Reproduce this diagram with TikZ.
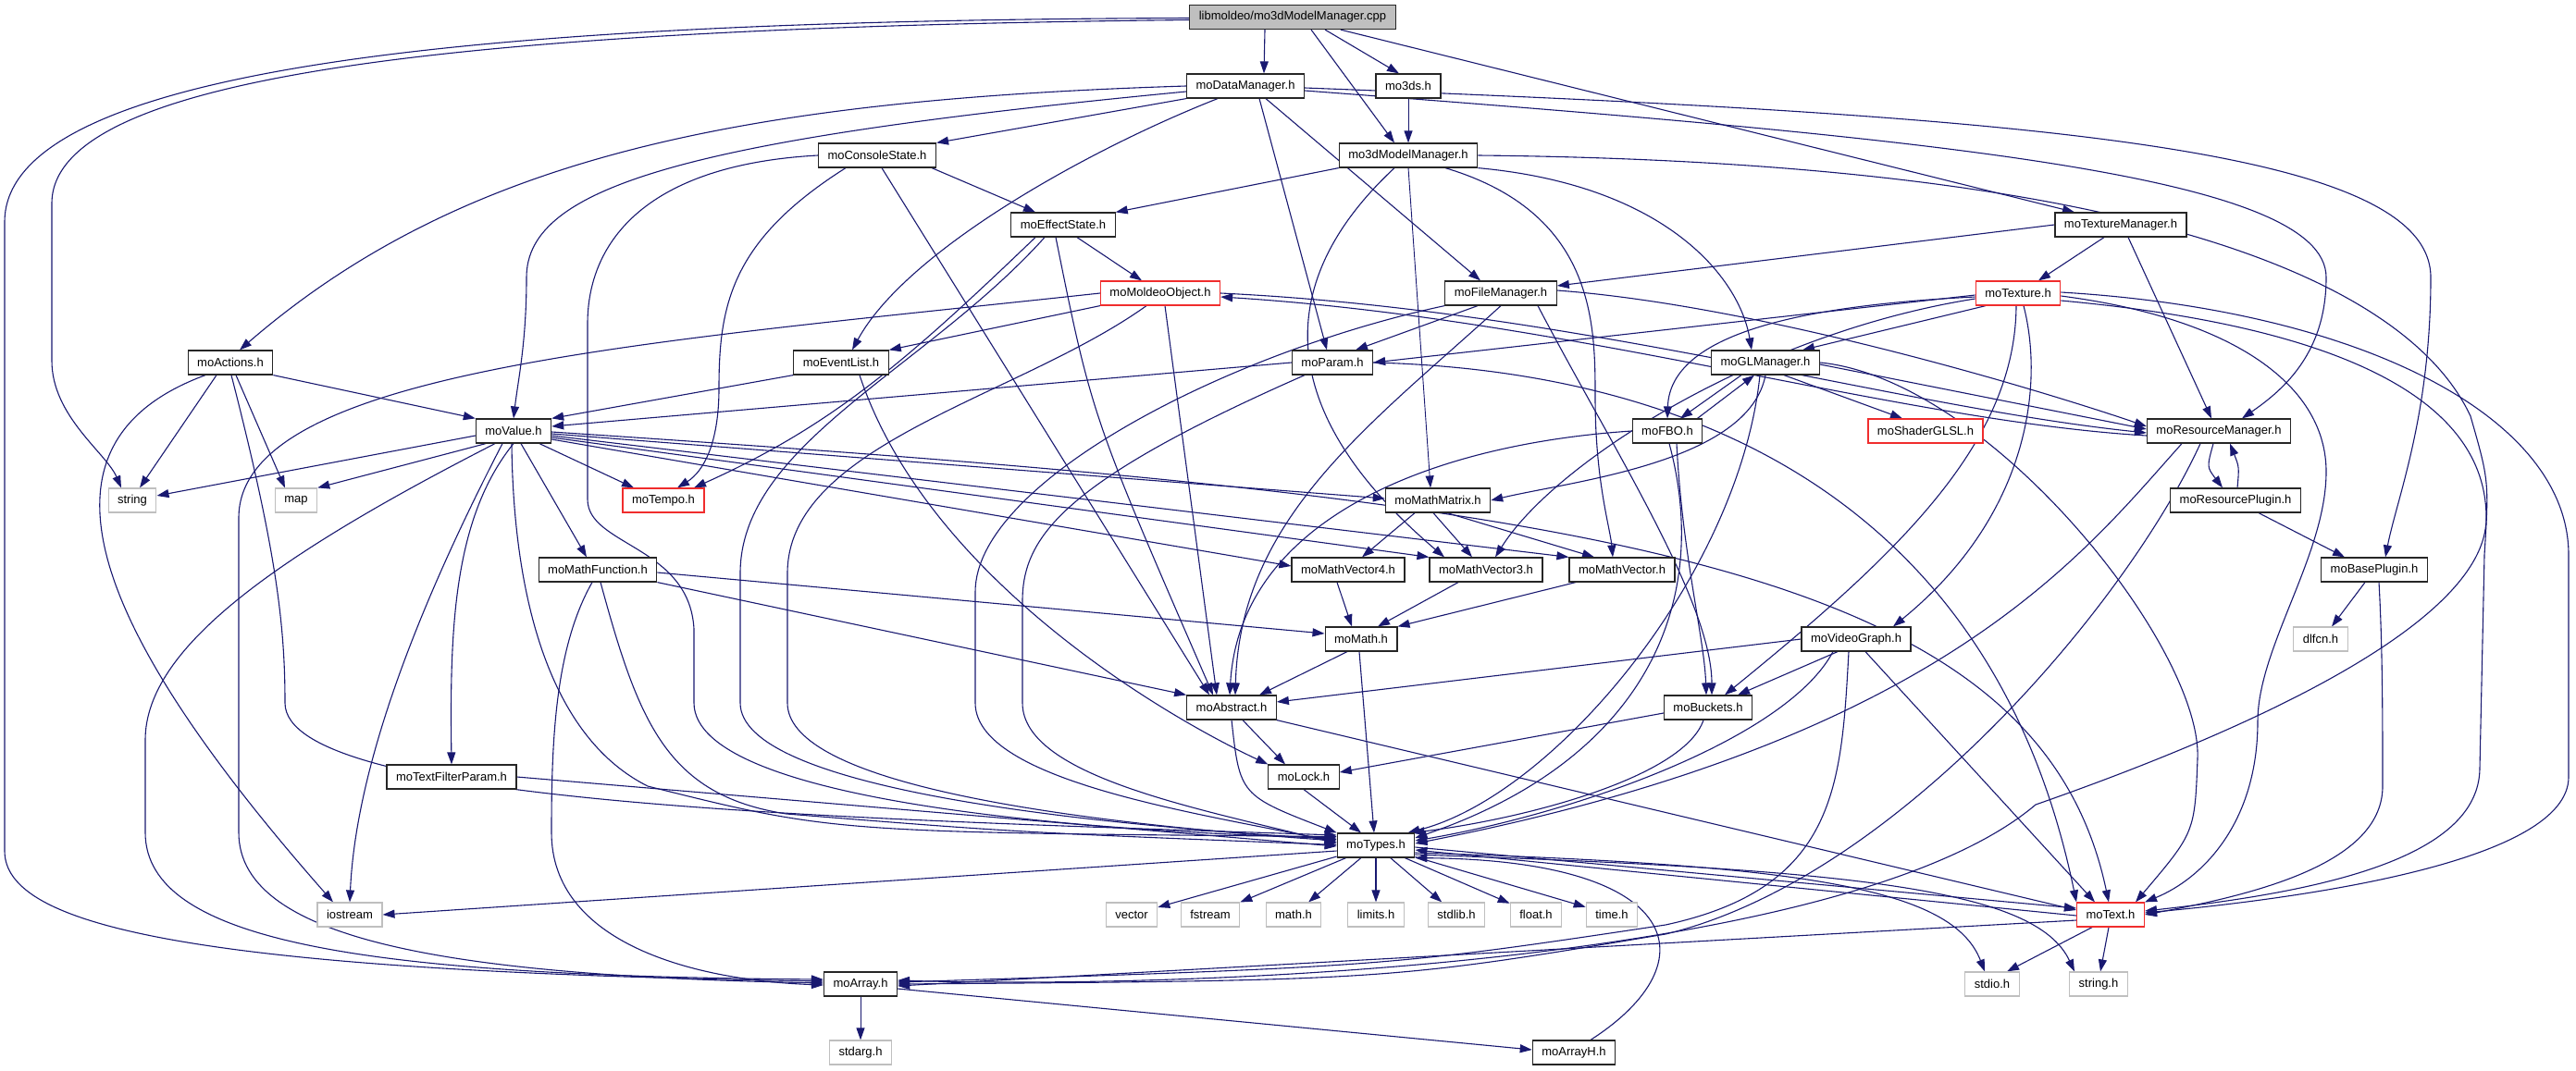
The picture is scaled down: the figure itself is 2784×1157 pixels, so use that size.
\documentclass[tikz,border=0pt]{standalone}
\usepackage{fontspec}
\setmainfont{Liberation Sans}
\usetikzlibrary{arrows.meta}
\definecolor{edgeblue}{RGB}{25,25,112}
\definecolor{boxgray}{RGB}{191,191,191}
\definecolor{boxred}{RGB}{240,45,45}
\pgfdeclarelayer{edges}
\pgfsetlayers{edges,main}
\begin{document}
\begin{tikzpicture}[x=1pt, y=-1pt,
	inc/.style={draw=black!85, line width=1.2pt, fill=white, font=\fontsize{13}{15}\selectfont, minimum height=26pt, inner xsep=10pt, inner ysep=0pt},
	sysinc/.style={inc, draw=boxgray},
	redinc/.style={inc, draw=boxred},
	dep/.style={draw=edgeblue, line width=1.1pt, -{Triangle[length=13pt,width=9pt]}},
	thindep/.style={dep, line width=0.9pt}]
	\useasboundingbox (0,0) rectangle (2784,1157);
	\node (cpp) [inc, fill=boxgray] at (1397,18.5) {libmoldeo/mo3dModelManager.cpp};
	\node (dm) [inc] at (1346,93) {moDataManager.h};
	\node (m3ds) [inc] at (1522,93) {mo3ds.h};
	\node (cs) [inc] at (948,168) {moConsoleState.h};
	\node (m3dm) [inc] at (1522,168) {mo3dModelManager.h};
	\node (es) [inc] at (1149,243) {moEffectState.h};
	\node (tm) [inc] at (2292,243) {moTextureManager.h};
	\node (mo) [redinc] at (1254,317) {moMoldeoObject.h};
	\node (fm) [inc] at (1622,317) {moFileManager.h};
	\node (tex) [redinc] at (2181,317) {moTexture.h};
	\node (act) [inc] at (249,392) {moActions.h};
	\node (el) [inc] at (909,392) {moEventList.h};
	\node (par) [inc] at (1440,392) {moParam.h};
	\node (gl) [inc] at (1908,392) {moGLManager.h};
	\node (val) [inc] at (555,466) {moValue.h};
	\node (fbo) [inc] at (1802,466) {moFBO.h};
	\node (glsl) [redinc] at (2081,466) {moShaderGLSL.h};
	\node (rm) [inc] at (2398,466) {moResourceManager.h};
	\node (str) [sysinc] at (143,541) {string};
	\node (map) [sysinc] at (320,541) {map};
	\node (tempo) [redinc] at (717,541) {moTempo.h};
	\node (mat) [inc] at (1554,541) {moMathMatrix.h};
	\node (rp) [inc] at (2416,541) {moResourcePlugin.h};
	\node (mf) [inc] at (646,616) {moMathFunction.h};
	\node (v4) [inc] at (1457,616) {moMathVector4.h};
	\node (v3) [inc] at (1606,616) {moMathVector3.h};
	\node (vec) [inc] at (1753,616) {moMathVector.h};
	\node (bp) [inc] at (2566,616) {moBasePlugin.h};
	\node (math) [inc] at (1471,691) {moMath.h};
	\node (vg) [inc] at (2006,691) {moVideoGraph.h};
	\node (dl) [sysinc] at (2508,691) {dlfcn.h};
	\node (abs) [inc] at (1331,765) {moAbstract.h};
	\node (buck) [inc] at (1846,765) {moBuckets.h};
	\node (tfp) [inc] at (488,840) {moTextFilterParam.h};
	\node (lock) [inc] at (1409,840) {moLock.h};
	\node (types) [inc] at (1487,914) {moTypes.h};
	\node (ios) [sysinc] at (378,989) {iostream};
	\node (vector) [sysinc] at (1223,989) {vector};
	\node (fstream) [sysinc] at (1308,989) {fstream};
	\node (mathh) [sysinc] at (1398,989) {math.h};
	\node (limits) [sysinc] at (1487,989) {limits.h};
	\node (stdlib) [sysinc] at (1574,989) {stdlib.h};
	\node (float) [sysinc] at (1660,989) {float.h};
	\node (time) [sysinc] at (1742,989) {time.h};
	\node (text) [redinc] at (2281,989) {moText.h};
	\node (arr) [inc] at (930,1064) {moArray.h};
	\node (stdio) [sysinc] at (2153,1064) {stdio.h};
	\node (strh) [sysinc] at (2268,1064) {string.h};
	\node (stdarg) [sysinc] at (930,1138) {stdarg.h};
	\node (arrh) [inc] at (1701,1138) {moArrayH.h};
	\begin{pgfonlayer}{edges}
	% cpp
	\draw[dep] ([xshift=-30pt]cpp.south) -- ([xshift=20pt]dm.north);
	\draw[dep] ([xshift=35pt]cpp.south) -- ([xshift=-10pt]m3ds.north);
	\draw[dep] ([xshift=20pt]cpp.south) -- ([xshift=-15pt]m3dm.north);
	\draw[dep] ([xshift=-60pt]cpp.south east) -- ([xshift=-50pt]tm.north);
	\draw[dep] ([yshift=-3pt]cpp.west) .. controls (500,30) and (56,80) .. (56,220) -- (56,390) .. controls (56,450) and (115,490) .. ([xshift=-12pt]str.north);
	\draw[dep] ([yshift=-1pt]cpp.west) .. controls (600,22) and (5,60) .. (5,240) -- (5,920) .. controls (5,1000) and (200,1050) .. ([yshift=3pt]arr.west);
	% moDataManager
	\draw[dep] (dm.west) .. controls (800,108) and (500,170) .. ([xshift=10pt]act.north);
	\draw[dep] ([yshift=-6pt]dm.west) .. controls (750,150) and (569,200) .. (569,300) .. controls (569,370) and (560,410) .. (val.north);
	\draw[dep] (dm.south west) -- (cs.north east);
	\draw[dep] ([xshift=-30pt]dm.south) .. controls (1180,160) and (980,270) .. ([xshift=12pt]el.north);
	\draw[dep] ([xshift=15pt]dm.south) -- ([xshift=-6pt]par.north);
	\draw[dep] ([xshift=22pt]dm.south) -- ([xshift=-22pt]fm.north);
	\draw[dep] ([yshift=-2pt]dm.east) .. controls (2200,125) and (2627,160) .. (2627,300) .. controls (2627,450) and (2590,540) .. ([xshift=12pt]bp.north);
	\draw[dep] ([yshift=-5pt]dm.east) .. controls (2100,150) and (2514,190) .. (2514,300) .. controls (2514,380) and (2470,420) .. ([xshift=25pt]rm.north);
	% mo3ds, mo3dModelManager
	\draw[thindep] (m3ds) -- (m3dm);
	\draw[dep] (m3dm.south west) -- (es.north east);
	\draw[thindep] (m3dm.south) -- ([xshift=-8pt]mat.north);
	\draw[dep] ([xshift=-15pt]m3dm.south) .. controls (1380,300) and (1370,440) .. ([xshift=-45pt]v3.north);
	\draw[dep] ([xshift=40pt]m3dm.south) .. controls (1724,230) and (1724,350) .. (1724,430) .. controls (1724,520) and (1740,570) .. ([xshift=-10pt]vec.north);
	\draw[dep] (m3dm.south east) .. controls (1800,200) and (1880,300) .. ([xshift=-15pt]gl.north);
	\draw[dep] (m3dm.east) .. controls (2300,175) and (2600,300) .. (2670,450) .. controls (2690,520) .. (2685,600) -- (2680,830) .. controls (2680,930) and (2500,965) .. ([yshift=4pt]text.east);
	% moConsoleState
	\draw[dep] ([xshift=-5pt]cs.south east) -- ([xshift=-30pt]es.north);
	\draw[dep] ([xshift=30pt]cs.south west) .. controls (790,260) and (777,330) .. (777,420) .. controls (777,480) and (760,510) .. ([xshift=15pt]tempo.north);
	\draw[dep] (cs.west) .. controls (700,178) and (635,260) .. (635,350) -- (635,540) .. controls (635,590) and (745,590) .. (750,680) -- (750,760) .. controls (750,870) and (1200,900) .. ([yshift=8pt]types.west);
	\draw[dep] ([xshift=5pt]cs.south) -- ([xshift=-24pt]abs.north);
	% moEffectState
	\draw[dep] ([xshift=15pt]es.south) -- ([xshift=-20pt]mo.north);
	\draw[dep] ([xshift=-8pt]es.south) .. controls (1180,450) .. ([xshift=-20pt]abs.north);
	\draw[dep] ([xshift=-30pt]es.south) .. controls (980,390) and (900,460) .. ([xshift=33pt]tempo.north);
	\draw[dep] ([xshift=-20pt]es.south) .. controls (1000,400) and (800,480) .. (800,620) -- (800,760) .. controls (800,850) and (1150,890) .. ([yshift=6.5pt]types.west);
	% moMoldeoObject
	\draw[dep] (mo.south west) -- (el.north east);
	\draw[dep] (mo.west) .. controls (700,370) and (258,400) .. (258,560) -- (258,900) .. controls (258,1020) and (500,1055) .. ([yshift=1pt]arr.west);
	\draw[dep] ([xshift=5pt]mo.south) -- ([xshift=-16pt]abs.north);
	\draw[dep] ([xshift=-15pt]mo.south) .. controls (1100,430) and (851,480) .. (851,620) -- (851,760) .. controls (851,840) and (1100,885) .. ([yshift=5pt]types.west);
	\draw[dep] (mo.east) .. controls (1700,335) and (2050,440) .. ([yshift=-2pt]rm.west);
	\draw[dep] ([yshift=-5pt]rm.west) .. controls (2050,455) and (1700,345) .. ([yshift=-4pt]mo.east);
	% moFileManager
	\draw[dep] ([xshift=-25pt]fm.south) -- ([xshift=25pt]par.north);
	\draw[dep] (fm.south) .. controls (1480,460) and (1340,560) .. ([xshift=4pt]abs.north);
	\draw[dep] (fm.south west) .. controls (1330,380) and (1054,520) .. (1054,640) -- (1054,760) .. controls (1054,845) and (1300,880) .. ([yshift=3.5pt]types.west);
	\draw[dep] ([xshift=40pt]fm.south) .. controls (1740,480) and (1850,650) .. ([xshift=4pt]buck.north);
	\draw[dep] ([yshift=3pt]fm.east) .. controls (1900,330) and (2200,420) .. ([yshift=5pt]rm.west);
	% moTextureManager
	\draw[dep] (tm.west) -- ([yshift=8pt]fm.east);
	\draw[dep] ([xshift=-18pt]tm.south) -- ([xshift=22pt]tex.north);
	\draw[dep] ([xshift=8pt]tm.south) -- ([xshift=-8pt]rm.north);
	% moTexture
	\draw[dep] ([xshift=-35pt]tex.south) -- ([xshift=40pt]gl.north);
	\draw[dep] ([yshift=-2pt]tex.west) -- (par.east);
	\draw[dep] ([yshift=-4pt]tex.west) .. controls (1950,330) and (1805,360) .. (fbo.north);
	\draw[dep] ([yshift=-6pt]tex.west) .. controls (1900,360) and (1680,500) .. ([xshift=10pt]v3.north);
	\draw[dep] ([xshift=6pt]tex.south) .. controls (2210,420) and (2190,560) .. ([xshift=40pt]vg.north);
	\draw[dep] ([xshift=-2pt]tex.south) .. controls (2178,480) and (2050,600) .. ([xshift=18pt]buck.north);
	\draw[dep] ([yshift=-3pt]tex.east) .. controls (2420,345) and (2514,420) .. (2514,510) .. controls (2514,600) and (2440,700) .. (2440,780) .. controls (2440,890) and (2380,950) .. (text.north east);
	\draw[dep] ([yshift=1pt]tex.east) .. controls (2550,335) and (2776,450) .. (2776,600) -- (2776,840) .. controls (2776,930) and (2500,970) .. ([yshift=2pt]text.east);
	\draw[dep] ([yshift=-8pt]tex.east) .. controls (2500,350) and (2687,420) .. (2687,560) .. controls (2687,680) and (2400,800) .. (2200,870) .. controls (2000,1040) and (1300,1070) .. ([yshift=4pt]arr.east);
	% moGLManager
	\draw[dep] ([xshift=-26pt]gl.south) -- ([xshift=14pt]fbo.north);
	\draw[dep] ([xshift=-6pt]fbo.north east) -- ([xshift=-12pt]gl.south);
	\draw[dep] ([xshift=20pt]gl.south) -- ([xshift=-25pt]glsl.north);
	\draw[dep] ([yshift=-2pt]gl.east) -- ([yshift=2pt]rm.west);
	\draw[dep] (gl.south) .. controls (1890,500) and (1700,520) .. (mat.east);
	\draw[dep] ([xshift=-6pt]gl.south) .. controls (1880,620) and (1680,860) .. ([xshift=-8pt]types.north east);
	\draw[dep] (gl.east) .. controls (2150,410) and (2380,700) .. (2375,820) .. controls (2372,900) .. ([xshift=-10pt]text.north east);
	% moValue
	\draw[dep] ([yshift=-5pt]val.west) -- ([yshift=5pt]str.east);
	\draw[dep] ([xshift=-30pt]val.south) -- (map.north east);
	\draw[dep] ([xshift=28pt]val.south) -- ([xshift=-32pt]tempo.north);
	\draw[dep] ([xshift=8pt]val.south) -- ([xshift=-12pt]mf.north);
	\draw[dep] (val.south) .. controls (490,560) and (486,680) .. (tfp.north);
	\draw[dep] ([xshift=-12pt]val.south) .. controls (460,640) and (385,820) .. (ios.north);
	\draw[dep] ([xshift=-2pt]val.south) .. controls (555,660) and (600,800) .. (700,850) .. controls (900,900) .. ([yshift=9.5pt]types.west);
	\draw[dep] ([xshift=-20pt]val.south) .. controls (300,600) and (157,700) .. (157,800) -- (157,900) .. controls (157,1020) and (400,1055) .. ([yshift=5pt]arr.west);
	\draw[dep] ([yshift=-1pt]val.east) .. controls (1700,540) and (2200,600) .. ([xshift=-2pt]text.north);
	\draw[dep] ([yshift=-3pt]val.east) -- ([yshift=2pt]mat.west);
	\draw[dep] ([yshift=-5pt]val.east) -- (vec.north west);
	\draw[dep] ([yshift=-7pt]val.east) -- (v3.north west);
	\draw[dep] ([yshift=-9pt]val.east) -- ([yshift=4pt]v4.west);
	% moActions
	\draw[dep] (act.south east) -- (val.north west);
	\draw[dep] ([xshift=-15pt]act.south) -- ([xshift=8pt]str.north);
	\draw[dep] ([xshift=6pt]act.south) -- ([xshift=-12pt]map.north);
	\draw[dep] ([xshift=-27pt]act.south) .. controls (20,480) and (100,680) .. ([xshift=-18pt]ios.north);
	\draw[dep] ([xshift=1pt]act.south) .. controls (300,600) and (308,680) .. (308,760) .. controls (308,870) and (900,885) .. ([yshift=11pt]types.west);
	% moEventList
	\draw[dep] (el.south west) -- (val.north east);
	\draw[dep] ([xshift=20pt]el.south) .. controls (1000,620) and (1250,770) .. (lock.north west);
	% moParam
	\draw[dep] (par.west) -- ([yshift=5pt]val.east);
	\draw[dep] (par.east) .. controls (1800,400) and (2150,520) .. (text.north west);
	\draw[dep] ([xshift=-30pt]par.south) .. controls (1150,520) and (1105,580) .. (1105,650) -- (1105,760) .. controls (1105,840) and (1300,875) .. ([yshift=2pt]types.west);
	% moMathMatrix, vectors, moMath
	\draw[dep] ([xshift=-25pt]mat.south) -- ([xshift=15pt]v4.north);
	\draw[dep] ([xshift=-5pt]mat.south) -- ([xshift=-15pt]v3.north);
	\draw[dep] ([xshift=10pt]mat.south) -- ([xshift=-30pt]vec.north);
	\draw[dep] ([xshift=-12pt]v4.south) -- ([xshift=-10pt]math.north);
	\draw[dep] ([xshift=-30pt]v3.south) -- ([xshift=18pt]math.north);
	\draw[dep] ([xshift=-50pt]vec.south) -- (math.north east);
	\draw[dep] ([xshift=-15pt]math.south) -- ([xshift=30pt]abs.north);
	\draw[dep] ([xshift=-2pt]math.south) -- ([xshift=-2pt]types.north);
	% moMathFunction
	\draw[dep] ([yshift=-3pt]mf.east) -- ([yshift=6pt]math.west);
	\draw[dep] (mf.south east) -- (abs.north west);
	\draw[dep] ([xshift=3pt]mf.south) .. controls (690,780) and (720,860) .. (850,880) .. controls (1100,900) .. ([yshift=0.5pt]types.west);
	\draw[dep] ([xshift=-6pt]mf.south) .. controls (600,700) and (596,800) .. (596,900) .. controls (596,1020) and (750,1060) .. ([yshift=-1pt]arr.west);
	% moTextFilterParam
	\draw[dep] (tfp.east) -- ([yshift=-1pt]types.west);
	% moAbstract, moLock, moBuckets
	\draw[dep] ([xshift=12pt]abs.south) -- ([xshift=-20pt]lock.north);
	\draw[dep] (abs.south) .. controls (1340,860) .. (types.north west);
	\draw[dep] (abs.south east) -- ([yshift=5pt]text.west);
	\draw[dep] (lock.south) -- ([xshift=-16pt]types.north);
	\draw[dep] ([yshift=-6pt]buck.west) -- ([yshift=5pt]lock.east);
	\draw[dep] ([xshift=-5pt]buck.south) .. controls (1820,840) and (1650,885) .. ([xshift=-3pt]types.north east);
	% moVideoGraph
	\draw[dep] (vg.west) -- ([yshift=6pt]abs.east);
	\draw[dep] ([xshift=-20pt]vg.south) -- ([xshift=32pt]buck.north);
	\draw[dep] ([xshift=-25pt]vg.south) .. controls (1930,800) and (1700,880) .. ([yshift=5pt]types.east);
	\draw[dep] ([xshift=-8pt]vg.south) .. controls (1990,850) and (1985,960) .. (1800,1000) .. controls (1500,1045) .. ([yshift=2pt]arr.east);
	\draw[dep] ([xshift=10pt]vg.south) -- ([xshift=-17pt]text.north);
	% moFBO
	\draw[dep] (fbo.west) .. controls (1550,480) and (1340,560) .. ([xshift=-2pt]abs.north);
	\draw[dep] ([xshift=2pt]fbo.south) .. controls (1850,650) and (1780,820) .. ([yshift=8pt]types.east);
	\draw[dep] ([xshift=10pt]fbo.south) .. controls (1818,600) and (1842,690) .. ([xshift=-2pt]buck.north);
	% moResourceManager, plugins
	\draw[dep] ([xshift=-6pt]rm.south) .. controls (2385,505) .. ([xshift=-14pt]rp.north);
	\draw[dep] ([xshift=2pt]rp.north) .. controls (2420,505) .. ([xshift=12pt]rm.south);
	\draw[dep] ([xshift=-40pt]rm.south) .. controls (2250,600) and (2100,800) .. ([yshift=2pt]types.east);
	\draw[dep] ([xshift=-20pt]rm.south) .. controls (2300,650) and (2050,950) .. (1800,1010) .. controls (1500,1060) .. (arr.east);
	\draw[dep] ([xshift=25pt]rp.south) -- ([xshift=-32pt]bp.north);
	\draw[dep] ([xshift=-10pt]bp.south) -- ([xshift=12pt]dl.north);
	\draw[dep] ([xshift=5pt]bp.south) .. controls (2575,700) and (2575,780) .. (2575,850) .. controls (2575,930) and (2450,965) .. (text.east);
	% moTypes
	\draw[dep] ([yshift=-6pt]types.west) -- (ios.east);
	\draw[dep] (types) -- (vector);
	\draw[dep] (types) -- (fstream);
	\draw[dep] (types) -- (mathh);
	\draw[dep] (types) -- (limits);
	\draw[dep] (types) -- (stdlib);
	\draw[dep] (types) -- (float);
	\draw[dep] (types) -- (time);
	\draw[dep] ([yshift=-2pt]types.east) -- ([yshift=7pt]text.west);
	\draw[dep] ([yshift=-1pt]text.west) -- ([yshift=-5pt]types.east);
	\draw[dep] ([yshift=-8pt]types.east) .. controls (1950,935) and (2110,960) .. ([xshift=-8pt]stdio.north);
	\draw[dep] ([yshift=-10pt]types.east) .. controls (2000,940) and (2200,960) .. ([xshift=-26pt]strh.north);
	% moText, moArray
	\draw[dep] ([yshift=-6pt]text.west) -- ([yshift=-2pt]arr.east);
	\draw[dep] ([xshift=-20pt]text.south) -- ([xshift=16pt]stdio.north);
	\draw[dep] ([xshift=-2pt]text.south) -- ([xshift=2pt]strh.north);
	\draw[thindep] (arr) -- (stdarg);
	\draw[dep] ([yshift=-5pt]arr.east) -- ([yshift=3pt]arrh.west);
	\draw[dep] ([xshift=18pt]arrh.north) .. controls (1850,1040) and (1820,930) .. (types.south east);
	\end{pgfonlayer}
\end{tikzpicture}
\end{document}
